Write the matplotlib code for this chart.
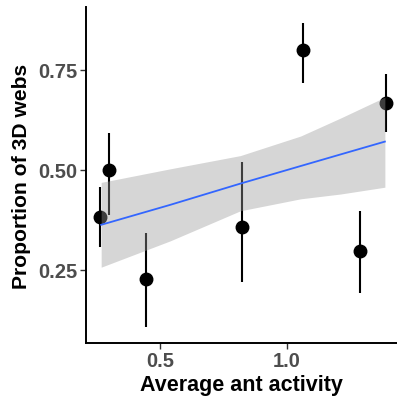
import matplotlib
matplotlib.use("Agg")
import matplotlib.pyplot as plt
import numpy as np

plt.rcParams['font.family'] = ['Liberation Sans', 'DejaVu Sans']

# mean proportion of 3D webs per site, with error bar ends
activity = [0.262, 0.298, 0.443, 0.824, 1.065, 1.392, 1.291]
prop_3d = [0.383, 0.500, 0.227, 0.357, 0.800, 0.667, 0.298]
err_low = [0.307, 0.387, 0.107, 0.220, 0.717, 0.594, 0.192]
err_high = [0.457, 0.592, 0.343, 0.520, 0.867, 0.740, 0.398]

# fitted line and confidence band
fit_x = [0.266, 0.540, 0.817, 1.056, 1.214, 1.389]
fit_y = [0.363, 0.413, 0.466, 0.510, 0.539, 0.571]
band_low = [0.257, 0.323, 0.398, 0.428, 0.440, 0.457]
band_high = [0.469, 0.503, 0.536, 0.585, 0.630, 0.682]

fig = plt.figure(figsize=(3.97, 4.02), dpi=100)
ax = fig.add_axes([86/397, 1-344/402, 311/397, 336/402])

ax.vlines(activity, err_low, err_high, color='black', lw=1.5, zorder=2)
ax.plot(activity, prop_3d, 'o', color='black', ms=9, zorder=3)
ax.fill_between(fit_x, band_low, band_high, color='#999999', alpha=0.4,
                lw=0, zorder=4)
ax.plot(fit_x, fit_y, color='#3366FF', lw=1.3, zorder=5)

ax.set_xlim(0.206, 1.437)
ax.set_ylim(0.0675, 0.9075)
ax.set_xticks([0.5, 1.0])
ax.set_xticklabels(['0.5', '1.0'])
ax.set_yticks([0.25, 0.50, 0.75])
ax.set_yticklabels(['0.25', '0.50', '0.75'])

for s in ['top', 'right']:
    ax.spines[s].set_visible(False)
for s in ['left', 'bottom']:
    ax.spines[s].set_linewidth(1.4)
    ax.spines[s].set_color('black')

ax.tick_params(length=4, width=1, color='#333333', labelsize=14.5,
               labelcolor='#4D4D4D', pad=2)
for lab in ax.get_xticklabels() + ax.get_yticklabels():
    lab.set_fontweight('bold')

ax.set_xlabel('Average ant activity', fontsize=15.5, fontweight='bold',
              labelpad=3)
ax.set_ylabel('Proportion of 3D webs', fontsize=15.2, fontweight='bold',
              labelpad=5)

fig.savefig('out.png', dpi=100)
